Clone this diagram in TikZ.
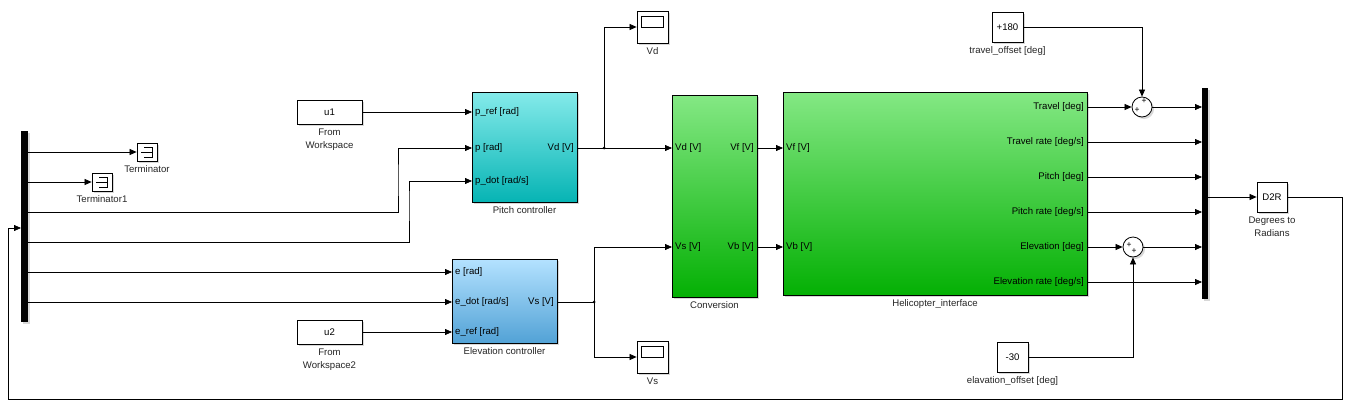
\documentclass[tikz,border=0pt]{standalone}
\usepackage{fontspec}
\setmainfont{Liberation Sans}
\usetikzlibrary{arrows.meta,shadows,calc}
\definecolor{cyanT}{HTML}{84EAEA}
\definecolor{cyanB}{HTML}{06B4B4}
\definecolor{blueT}{HTML}{B4E2FF}
\definecolor{blueB}{HTML}{52A2D6}
\definecolor{grnT}{HTML}{84E884}
\definecolor{grnM}{HTML}{5AD85A}
\definecolor{grnB}{HTML}{04B004}
\newcommand\fs{\fontsize{9.6}{13}\selectfont}
\tikzset{
 shad/.style={drop shadow={shadow xshift=2pt,shadow yshift=-2pt,opacity=0.3}},
 blk/.style={draw, line width=0.8pt, rectangle, inner sep=0pt, shad},
 wblk/.style={blk, fill=white, font=\fs},
 sig/.style={draw, line width=0.75pt, -{Triangle[length=7pt,width=6pt]}},
 wire/.style={draw, line width=0.75pt},
 lbl/.style={font=\fs, text=black!85, align=center, inner sep=0pt},
 port/.style={font=\fs, inner sep=0pt},
 muxbar/.style={fill=black, draw=none, inner sep=0pt, rectangle, shad},
 sumblk/.style={circle, draw, line width=0.8pt, fill=white, minimum size=20pt, inner sep=0pt, shad},
 sgn/.style={font=\fontsize{8.5}{8.5}\selectfont, inner sep=0pt},
 dot/.style={circle, fill=black, inner sep=0pt, minimum size=3pt},
}
\begin{document}
\begin{tikzpicture}[x=1pt,y=-1pt]
\fill[white] (0,0) rectangle (1350,410);
\useasboundingbox (0,0) rectangle (1350,410);

% mux / demux bars
\node[muxbar, minimum width=7pt, minimum height=191pt] (dmx) at (24.5,226.5) {};
\node[muxbar, minimum width=6pt, minimum height=211pt] (mx) at (1205,193.5) {};

% terminators
\node[wblk, minimum width=20pt, minimum height=18pt] (term) at (147,152) {};
\node[wblk, minimum width=20pt, minimum height=18pt] (term1) at (102,182) {};
\foreach \t in {term,term1}{
  \draw[line width=0.6pt] ($(\t)+(-3,-5)$) -- ($(\t)+(5,-5)$) -- ($(\t)+(5,5)$) -- ($(\t)+(-3,5)$);
  \draw[line width=0.6pt] ($(\t)+(-6,0)$) -- ($(\t)+(5,0)$);
}
\node[lbl, anchor=north] (terml) at ($(term.south)+(0,4)$) {Terminator};
\node[lbl, anchor=north] (term1l) at ($(term1.south)+(0,4)$) {Terminator1};

% from workspace
\node[wblk, minimum width=65pt, minimum height=24pt] (u1) at (329.5,112) {u1};
\node[lbl, anchor=north] (u1l) at ($(u1.south)+(0,4)$) {From\\Workspace};
\node[wblk, minimum width=65pt, minimum height=24pt] (u2) at (329.5,332) {u2};
\node[lbl, anchor=north] (u2l) at ($(u2.south)+(0,4)$) {From\\Workspace2};

% pitch controller
\node[blk, top color=cyanT, bottom color=cyanB, minimum width=105pt, minimum height=110pt] (pc) at (524.5,147) {};
\node[lbl, anchor=north] (pcl) at ($(pc.south)+(0,4)$) {Pitch controller};
\coordinate (pc1) at (472,112);
\coordinate (pc2) at (472,148);
\coordinate (pc3) at (472,181);
\coordinate (pco) at (577,148);
\node[port, anchor=west] (pcp1) at ($(pc1)+(3,0)$) {p\_ref [rad]};
\node[port, anchor=west] (pcp2) at ($(pc2)+(3,0)$) {p [rad]};
\node[port, anchor=west] (pcp3) at ($(pc3)+(3,0)$) {p\_dot [rad/s]};
\node[port, anchor=east] (pcpo) at ($(pco)+(-3,0)$) {Vd [V]};

% elevation controller
\node[blk, top color=blueT, bottom color=blueB, minimum width=105pt, minimum height=84pt] (ec) at (504.5,301) {};
\node[lbl, anchor=north] (ecl) at ($(ec.south)+(0,4)$) {Elevation controller};
\coordinate (ec1) at (452,272);
\coordinate (ec2) at (452,302);
\coordinate (ec3) at (452,332);
\coordinate (eco) at (557,302);
\node[port, anchor=west] (ecp1) at ($(ec1)+(3,0)$) {e [rad]};
\node[port, anchor=west] (ecp2) at ($(ec2)+(3,0)$) {e\_dot [rad/s]};
\node[port, anchor=west] (ecp3) at ($(ec3)+(3,0)$) {e\_ref [rad]};
\node[port, anchor=east] (ecpo) at ($(eco)+(-3,0)$) {Vs [V]};

% scopes
\node[wblk, minimum width=31pt, minimum height=32pt] (svd) at (652.5,27) {};
\draw[line width=0.6pt] ($(svd)+(-11,-11)$) rectangle ($(svd)+(11,0)$);
\node[lbl, anchor=north] (svdl) at ($(svd.south)+(0,4)$) {Vd};
\node[wblk, minimum width=31pt, minimum height=32pt] (svs) at (652.5,357) {};
\draw[line width=0.6pt] ($(svs)+(-11,-11)$) rectangle ($(svs)+(11,0)$);
\node[lbl, anchor=north] (svsl) at ($(svs.south)+(0,4)$) {Vs};

% conversion
\node[blk, top color=grnT, middle color=grnM, bottom color=grnB, minimum width=85pt, minimum height=202pt] (cv) at (714.5,196) {};
\node[lbl, anchor=north] (cvl) at ($(cv.south)+(0,4)$) {Conversion};
\coordinate (cv1) at (672,148);
\coordinate (cv2) at (672,247);
\coordinate (cvo1) at (757,148);
\coordinate (cvo2) at (757,247);
\node[port, anchor=west] (cvp1) at ($(cv1)+(3,0)$) {Vd [V]};
\node[port, anchor=west] (cvp2) at ($(cv2)+(3,0)$) {Vs [V]};
\node[port, anchor=east] (cvpo1) at ($(cvo1)+(-3,0)$) {Vf [V]};
\node[port, anchor=east] (cvpo2) at ($(cvo2)+(-3,0)$) {Vb [V]};

% helicopter interface
\node[blk, top color=grnT, middle color=grnM, bottom color=grnB, minimum width=304pt, minimum height=203pt] (hi) at (935,193.5) {};
\node[lbl, anchor=north] (hil) at ($(hi.south)+(0,4)$) {Helicopter\_interface};
\coordinate (hi1) at (783,148);
\coordinate (hi2) at (783,247);
\node[port, anchor=west] (hip1) at ($(hi1)+(3,0)$) {Vf [V]};
\node[port, anchor=west] (hip2) at ($(hi2)+(3,0)$) {Vb [V]};
\foreach \n/\yy/\t in {1/107/{Travel [deg]},2/142/{Travel rate [deg/s]},3/177/{Pitch [deg]},4/212/{Pitch rate [deg/s]},5/247/{Elevation [deg]},6/282/{Elevation rate [deg/s]}}{
  \coordinate (ho\n) at (1087,\yy);
  \coordinate (mi\n) at (1202,\yy);
  \node[port, anchor=east] (hop\n) at ($(ho\n)+(-3,0)$) {\t};
}

% sums and constants
\node[sumblk] (s1) at (1142,107) {};
\node[sgn] (s1a) at (1144,101) {+};
\node[sgn] (s1b) at (1137,110) {+};
\node[sumblk] (s2) at (1133,247) {};
\node[sgn] (s2a) at (1129,245) {+};
\node[sgn] (s2b) at (1134,251) {+};
\node[wblk, minimum width=31pt, minimum height=30pt] (c1) at (1007.5,27) {+180};
\node[lbl, anchor=north] (c1l) at ($(c1.south)+(0,4)$) {travel\_offset [deg]};
\node[wblk, minimum width=31pt, minimum height=30pt] (c2) at (1012.5,357) {-30};
\node[lbl, anchor=north] (c2l) at ($(c2.south)+(0,4)$) {elavation\_offset [deg]};

% D2R
\node[wblk, minimum width=30pt, minimum height=30pt] (d2r) at (1272,197) {D2R};
\node[lbl, anchor=north] (d2rl) at ($(d2r.south)+(0,4)$) {Degrees to\\Radians};

% demux ports
\foreach \n/\yy in {1/152,2/182,3/212,4/242,5/272,6/302}{\coordinate (dm\n) at (28,\yy);}
\coordinate (dmin) at (21,228);

% connectors
\draw[sig] (dm1) -- (term.west);
\draw[sig] (dm2) -- (term1.west);
\draw[sig] (dm3) -| (398,180) |- (pc2);
\draw[sig] (dm4) -| (409,200) |- (pc3);
\draw[sig] (dm5) -- (ec1);
\draw[sig] (dm6) -- (ec2);
\draw[sig] (u1.east) -- (pc1);
\draw[sig] (u2.east) -- (ec3);

\coordinate (vdbr) at (604,148);
\coordinate (vsbr) at (594,302);
\draw[sig] (pco) -- (cv1);
\draw[sig] (vdbr) |- (svd.west);
\node[dot] (vdd) at (vdbr) {};
\draw[wire] (eco) -- (vsbr);
\draw[sig] (vsbr) |- (cv2);
\draw[sig] (vsbr) |- (svs.west);
\node[dot] (vsd) at (vsbr) {};

\draw[sig] (cvo1) -- (hi1);
\draw[sig] (cvo2) -- (hi2);

\draw[sig] (ho1) -- (s1.west);
\draw[sig] (s1.east) -- (mi1);
\draw[sig] (c1.east) -| (s1.north);
\draw[sig] (ho2) -- (mi2);
\draw[sig] (ho3) -- (mi3);
\draw[sig] (ho4) -- (mi4);
\draw[sig] (ho5) -- (s2.west);
\draw[sig] (s2.east) -- (mi5);
\draw[sig] (c2.east) -| (s2.south);
\draw[sig] (ho6) -- (mi6);

\coordinate (mxo) at (1208,197);
\draw[sig] (mxo) -- (d2r.west);
\coordinate (fb1) at (1342,399);
\coordinate (fb2) at (8,399);
\draw[sig] (d2r.east) -| (fb1) -- (fb2) |- (dmin);
\end{tikzpicture}
\end{document}
